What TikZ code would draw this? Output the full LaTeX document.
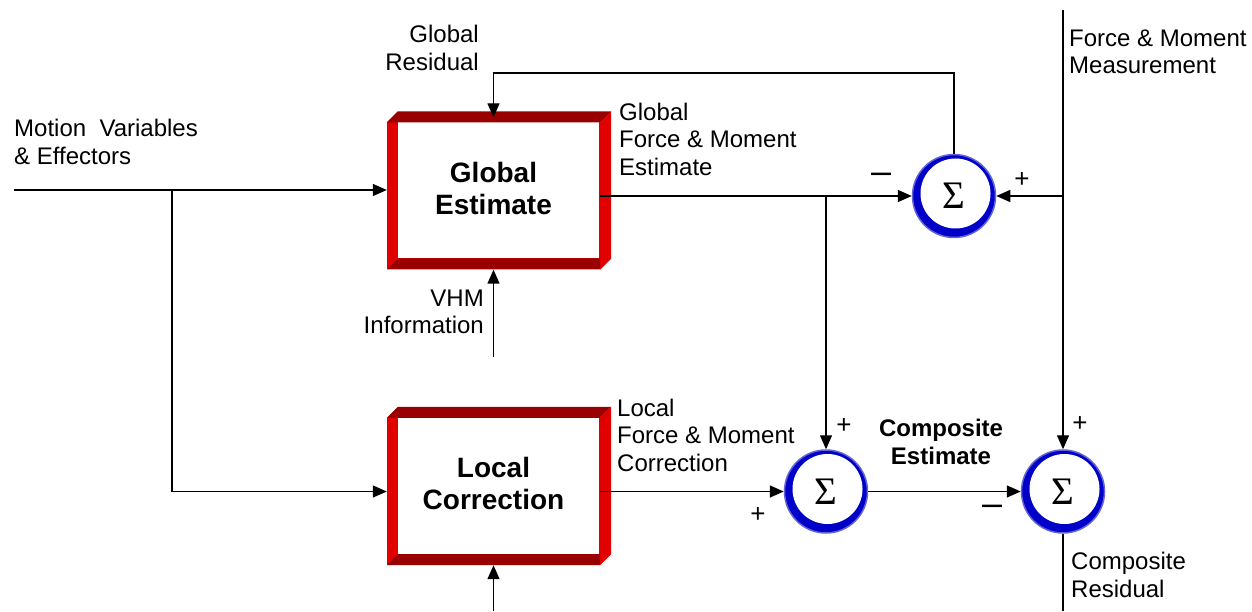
\documentclass[tikz,border=0pt]{standalone}
\usepackage{fontspec}
\setmainfont{Liberation Sans}
\newfontfamily\sigmafont{Liberation Serif}
\usetikzlibrary{arrows.meta}
\definecolor{framered}{RGB}{224,0,0}
\definecolor{bevelred}{RGB}{153,0,0}
\definecolor{ringblue}{RGB}{0,0,200}
\definecolor{ringhalo}{RGB}{100,100,215}

\begin{document}
\begin{tikzpicture}[
    x=1pt, y=1pt, >={Triangle[length=14pt,width=12pt]},
    block/.style={rectangle, fill=framered, minimum width=213pt, minimum height=147pt, inner sep=0pt,
        font=\fontsize{28}{32}\selectfont\bfseries,
        path picture={
            \fill[white] ([xshift=11pt]path picture bounding box.north west) rectangle ([shift={(-1.5pt,11pt)}]path picture bounding box.south east);
            \fill[bevelred] (path picture bounding box.south west) -- ([shift={(11pt,11pt)}]path picture bounding box.south west)
                -- ([yshift=11pt]path picture bounding box.south east) -- (path picture bounding box.south east) -- cycle;
        }},
    sum/.style={circle, fill=ringblue, draw=ringhalo, line width=1.5pt, minimum size=83pt, inner sep=0pt,
        font=\fontsize{39}{39}\sigmafont,
        path picture={\fill[white] ([shift={(1.5pt,2.5pt)}]path picture bounding box.center) circle (35pt);}},
    lbl/.style={font=\fontsize{24}{27.5}\selectfont, inner sep=0pt},
    plussign/.style={font=\fontsize{26}{26}\selectfont, inner sep=0pt},
    minussign/.style={font=\fontsize{36}{36}\selectfont, inner sep=0pt},
    wire/.style={line width=1.4pt}
]
\useasboundingbox (0,0) rectangle (1252,611);

% Blocks
\node[block] (glob) at (493.5,415) {\raisebox{-2pt}[0pt][0pt]{\begin{tabular}{@{}c@{}}Global\\Estimate\end{tabular}}};
\node[block] (loc) at (493.5,119.5) {\raisebox{-2pt}[0pt][0pt]{\begin{tabular}{@{}c@{}}Local\\Correction\end{tabular}}};

% Bevel faces of the blocks
\foreach \b in {glob,loc} {
    \fill[framered] (\b.north east) -- ([shift={(11pt,11pt)}]\b.north east) -- ([shift={(11pt,11pt)}]\b.south east) -- (\b.south east) -- cycle;
    \fill[bevelred] (\b.north west) -- ([shift={(11pt,11pt)}]\b.north west) -- ([shift={(11pt,11pt)}]\b.north east) -- (\b.north east) -- cycle;
}

% Summing junctions
\node[sum] (S1) at (954,415) {Σ};
\node[sum] (S2) at (826,119.5) {Σ};
\node[sum] (S3) at (1063,119.5) {Σ};

% Labels
\node[lbl, anchor=east, align=right] (lresid) at (479,563) {Global\\Residual};
\node[lbl, anchor=west, align=left] (lmotion) at (14,469) {Motion\ \ Variables\\\& Effectors};
\node[lbl, anchor=west, align=left] (lgest) at (619,472) {Global\\Force \& Moment\\Estimate};
\node[lbl, anchor=west, align=left] (lfm) at (1069,559) {Force \& Moment\\Measurement};
\node[lbl, anchor=east, align=right] (lvhm) at (484,299) {VHM\\Information};
\node[lbl, anchor=west, align=left] (llcorr) at (617,176) {Local\\Force \& Moment\\Correction};
\node[lbl, align=center, font=\fontsize{24}{27.5}\selectfont\bfseries] (lcest) at (941,169) {Composite\\Estimate};
\node[lbl, anchor=west, align=left] (lcres) at (1071,36) {Composite\\Residual};

% Signs
\node[minussign] (m1) at (881,433) {–};
\node[plussign] (p1) at (1022,431) {+};
\node[plussign] (p2) at (844,185) {+};
\node[plussign] (p3) at (758,96) {+};
\node[plussign] (p4) at (1080,187) {+};
\node[minussign] (m3) at (992,101) {–};

% Motion variables input
\coordinate (min) at (14,421);
\coordinate (mjoin) at (172,421);
\draw[wire,->] (min) -- (min -| glob.west);
\draw[wire,->] (mjoin) |- (loc.west);

% Global estimate to both sums
\coordinate (gjoin) at (glob.east -| S2.north);
\draw[wire,->] (glob.east) -- (S1.west);
\draw[wire,->] (gjoin) -- (S2.north);

% Force and moment measurement
\coordinate (fmtop) at (1063,601);
\draw[wire,->] (fmtop) -- (S3.north);
\draw[wire,->] (S1.east -| fmtop) -- (S1.east);

% Global residual feedback
\coordinate (rescorner) at (954,538);
\draw[wire,->] (S1.north) -- (rescorner) -| ([yshift=5pt]glob.north);

% VHM information and local input
\coordinate (vhm) at (493.5,254);
\coordinate (lin) at (493.5,0);
\draw[wire,->] (vhm) -- (glob.south);
\draw[wire,->] (lin) -- (loc.south);

% Local correction and composite
\draw[wire,->] (loc.east) -- (S2.west);
\draw[wire,->] (S2.east) -- (S3.west);
\coordinate (cres) at (1063,0);
\draw[wire] (S3.south) -- (cres);

\end{tikzpicture}
\end{document}
